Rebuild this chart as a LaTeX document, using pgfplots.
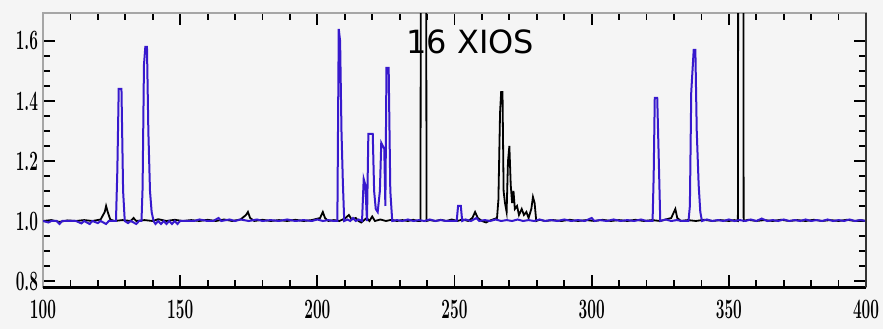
\documentclass[border=0pt]{standalone}
\usepackage{fontspec}
\usepackage{pgfplots}
\pgfplotsset{compat=1.18}
\newfontfamily\titlefont{DejaVu Sans}
\definecolor{bg}{HTML}{F5F5F5}
\definecolor{specblue}{RGB}{55,25,205}
\newcommand{\tl}[1]{\scalebox{0.55}[1]{\fontsize{14}{14}\selectfont\bfseries #1}}
\begin{document}
\begin{tikzpicture}
\fill[bg] (-21.5pt,-21pt) rectangle (420pt,143.5pt);
\useasboundingbox (-21.5pt,-21pt) rectangle (420pt,143.5pt);
\begin{axis}[
  scale only axis, width=411.5pt, height=137pt,
  xmin=100, xmax=400, ymin=0.78, ymax=1.693,
  xtick={100,150,...,400}, ytick={0.8,1.0,...,1.6},
  minor x tick num=4, minor y tick num=3,
  major tick length=6pt, minor tick length=3.5pt,
  every tick/.style={black, line width=0.9pt},
  axis line style={gray!70, line width=0.8pt},
  /pgf/number format/assume math mode=true,
  xticklabel={\tl{\pgfmathprintnumber[fixed,precision=0]{\tick}}},
  yticklabel={\tl{\pgfmathprintnumber[fixed,fixed zerofill,precision=1]{\tick}}},
  xticklabel style={yshift=-3pt},
  yticklabel style={xshift=1pt},
  axis background/.style={fill=bg},
  clip=true,
]
% black series
\addplot[black, line width=0.9pt] coordinates {
(100,1.0)(103,1.003)(106,0.997)(109,1.002)(112,1.0)(115,1.003)(118,1.0)(121,1.005)(122.5,1.03)(123,1.05)(123.6,1.03)(124.5,1.005)(126,1.0)(129,1.003)(132,1.0)(133,1.01)(134,1.0)(137,1.003)(140,1.0)(142,1.006)(145,1.0)(148,1.004)(151,1.0)(154,1.003)(157,1.0)(160,1.004)(163,1.0)(166,1.005)(169,1.0)(172,1.005)(174,1.02)(174.7,1.03)(175.5,1.01)(177,1.0)(180,1.004)(183,1.0)(186,1.003)(189,1.0)(192,1.004)(195,1.0)(198,1.003)(201,1.01)(202,1.03)(202.8,1.01)(204,1.0)(206,1.003)(208,1.0)(210,1.008)(211.5,1.02)(212.5,1.005)(214,1.01)(215,1.0)(216,0.995)(218,1.01)(219,1.0)(220,1.015)(221,1.0)(223,1.005)(225,1.0)(227,1.004)(229,1.0)(231,1.003)(233,1.0)(235,1.004)(236.5,1.0)
(237.6,1.0)(237.8,2.5)(239.6,2.5)(239.8,1.0)
(241,1.003)(243,1.0)(245,1.004)(247,1.0)(249,1.005)(251,1.0)(253,1.005)(255,1.0)(256.5,1.01)(257.5,1.03)(258.5,1.01)(260,1.0)(261.5,0.995)(262.5,1.0)(264,1.005)
(265.5,1.01)(266,1.07)(266.6,1.36)(267,1.43)(267.5,1.43)(267.9,1.1)(268.4,1.06)(269,1.03)(269.5,1.2)(270,1.25)(270.5,1.12)(271,1.06)(271.5,1.1)(272,1.04)(272.8,1.05)(273.5,1.02)(274.5,1.04)(275.3,1.02)(276.2,1.03)(277,1.01)(278,1.04)(278.6,1.08)(279.2,1.06)(279.8,1.0)
(281,1.004)(283,1.0)(286,1.003)(289,1.0)(292,1.004)(295,1.0)(298,1.003)(301,1.0)(304,1.004)(307,1.0)(310,1.003)(313,1.0)(316,1.004)(319,1.0)(322,1.003)(325,1.0)(327,1.005)(329,1.01)(330.5,1.04)(331.2,1.01)(332.5,1.0)(335,1.003)(338,1.0)(341,1.004)(344,1.0)(347,1.003)(350,1.0)(352,1.003)
(353.3,1.0)(353.5,2.5)(355.2,2.5)(355.4,1.0)
(357,1.004)(360,1.0)(363,1.003)(366,1.0)(369,1.004)(372,1.0)(375,1.003)(378,1.0)(381,1.004)(384,1.0)(387,1.003)(390,1.0)(393,1.004)(396,1.0)(398,1.003)(400,1.0)
};
% blue series
\addplot[specblue, line width=1pt] coordinates {
(100,1.0)(102,0.995)(103,1.0)(105,1.0)(106,0.99)(107,1.0)(110,1.0)(112,1.0)(114,0.992)(115,1.0)(117,0.99)(118,1.0)(120,0.993)(121,1.0)(123,0.99)(124,1.0)(125,1.0)
(126.6,1.0)(127.1,1.17)(127.6,1.44)(128.6,1.44)(129.2,1.1)(129.8,1.0)
(131,0.993)(132,1.0)(134,0.99)(135,1.0)
(135.9,1.0)(136.3,1.11)(136.8,1.52)(137.3,1.58)(137.9,1.58)(138.4,1.3)(139,1.1)(139.6,1.03)(140.3,1.0)
(141,0.99)(142,1.0)(143,0.99)(144,1.0)(145,0.99)(146,1.0)(147,0.99)(148,1.0)(149,0.99)(150,1.0)(152,1.0)(155,1.0)(157,1.005)(160,1.0)(162,1.0)(164,1.01)(165,1.0)(168,1.005)(170,1.0)(172,1.005)(175,1.0)(178,1.005)(180,1.0)(183,1.003)(186,1.0)(189,1.005)(192,1.0)(195,1.003)(198,1.0)(200,1.005)(202,1.0)(204,1.003)(206,1.0)
(207.3,1.0)(207.8,1.64)(208.3,1.6)(208.8,1.3)(209.3,1.13)(209.8,1.0)
(211,1.005)(212,1.0)(213,1.01)(214,1.0)(215,1.005)
(216.3,1.0)(216.9,1.14)(217.5,1.12)(218.1,1.0)(218.6,1.29)(220.2,1.29)(220.7,1.1)(221.3,1.04)(222,1.03)(222.8,1.1)(223.3,1.26)(224.4,1.24)(224.8,1.05)(225.2,1.51)(226,1.51)(226.6,1.1)(227.3,1.0)
(229,1.003)(231,1.0)(233,1.005)(235,1.0)(237,1.003)(239,1.0)(241,1.005)(243,1.0)(245,1.003)(247,1.0)(249,1.0)(250.8,1.0)(251.3,1.05)(252.3,1.05)(252.8,1.0)(254,1.005)(256,1.0)(258,1.01)(259,1.0)(261,1.003)(263,1.0)(265,1.005)(267,1.0)(269,1.003)(271,1.0)(273,1.005)(275,1.0)(277,1.003)(279,1.0)(281,1.005)(283,1.0)(285,1.003)(287.5,1.0)(290,1.005)(292.5,1.0)(295,1.003)(297.5,1.0)(300,1.01)(301,1.0)(303,1.003)(305.5,1.0)(308,1.005)(310.5,1.0)(313,1.003)(315.5,1.0)(318,1.005)(320,1.0)
(322.2,1.0)(322.6,1.15)(323,1.41)(323.9,1.41)(324.5,1.19)(325,1.0)
(327,1.005)(329,1.0)(331,1.003)(333,1.0)
(335.3,1.0)(335.8,1.05)(336.3,1.43)(337.2,1.57)(337.8,1.57)(338.3,1.3)(339,1.12)(339.6,1.03)(340.2,1.0)
(342,1.005)(344,1.0)(346,1.003)(348,1.0)(350,1.005)(352,1.0)(354,1.003)(356,1.0)(358,1.005)(360,1.0)(362,1.008)(364,1.0)(366,1.003)(368,1.0)(370,1.005)(372,1.0)(374,1.003)(376,1.0)(378,1.005)(380,1.0)(382,1.003)(384,1.0)(386,1.005)(388,1.0)(390,1.003)(392,1.0)(394,1.005)(396,1.0)(398,1.003)(400,1.0)
};
\node[font=\titlefont\fontsize{16}{16}\selectfont, inner sep=0pt] at (axis cs:255.7,1.597) {16 XIOS};
\end{axis}
\draw[black, line width=1.5pt] (0,0) -- (411.5pt,0);
\draw[black!80, line width=0.8pt] (411.5pt,0) -- (411.5pt,137pt);
\end{tikzpicture}
\end{document}
